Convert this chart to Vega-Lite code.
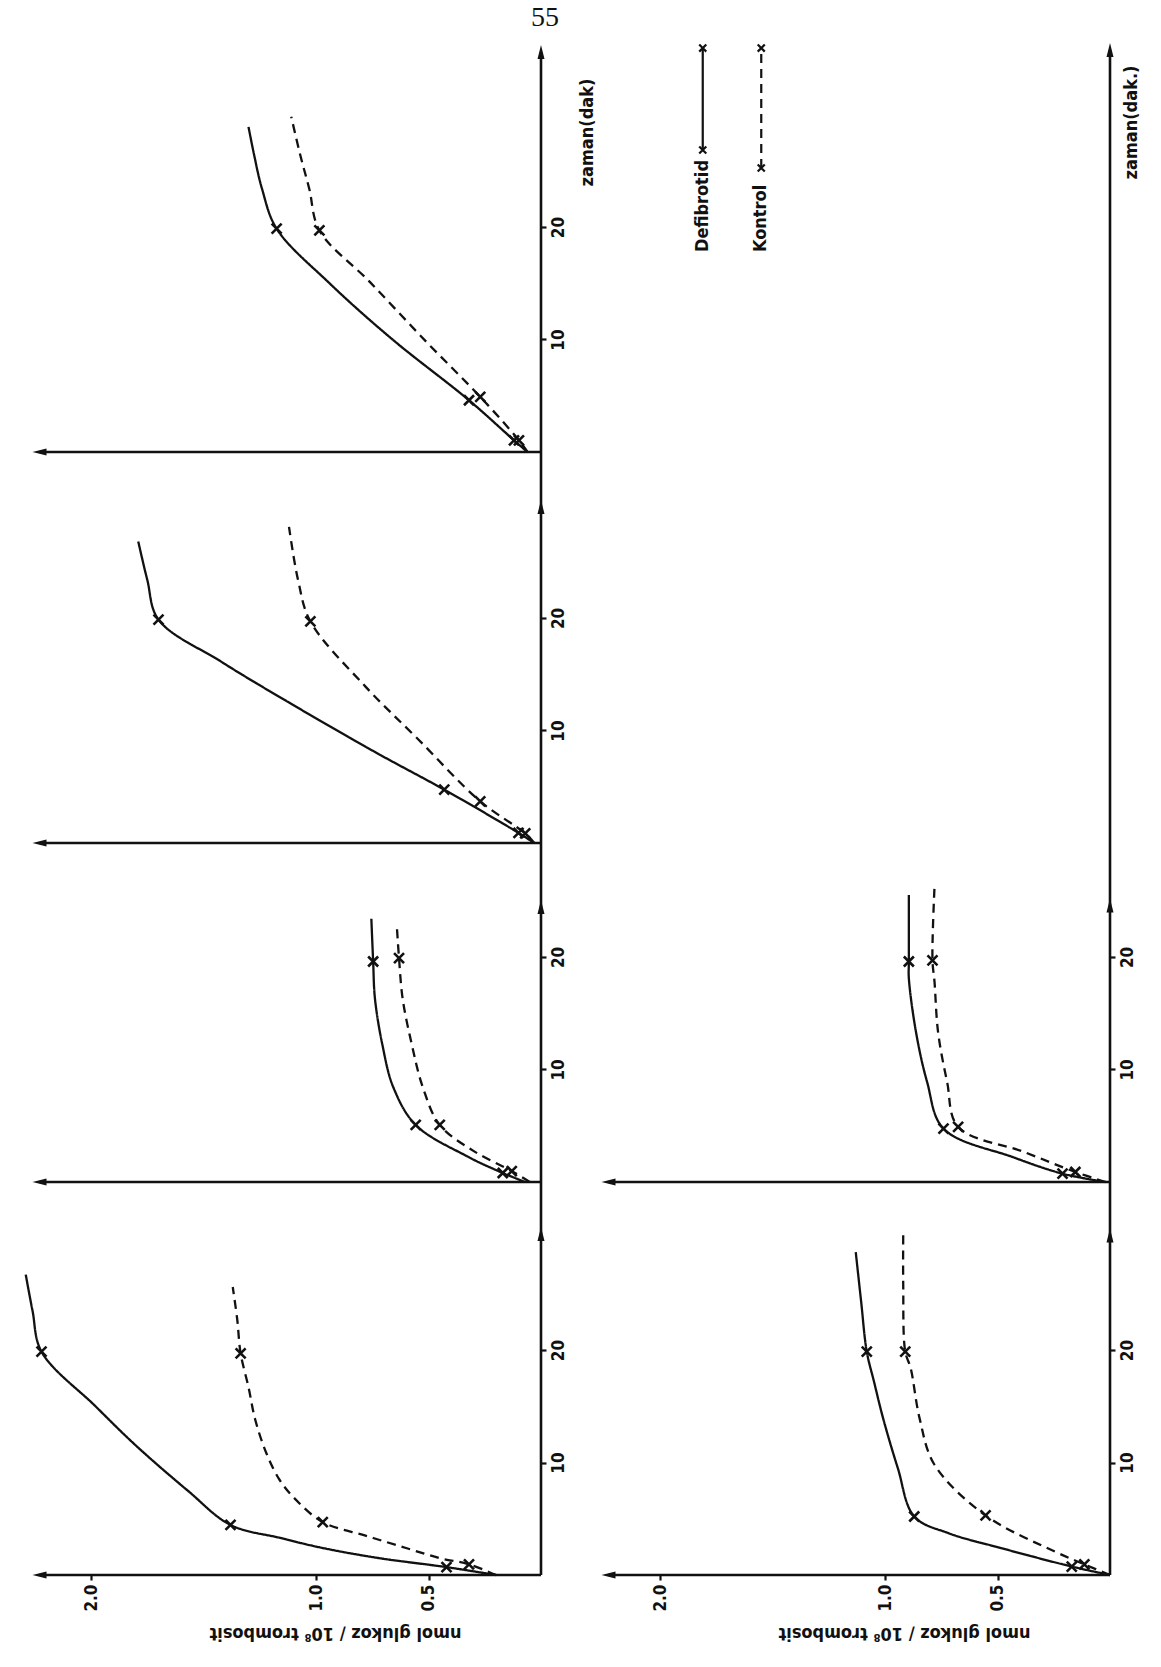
{
"$schema":"https://vega.github.io/schema/vega-lite/v6.json",
"background":"white",
"padding":{"left":10,"top":4,"right":0,"bottom":22},
"title":{"text":"55","font":"Liberation Serif","fontSize":28,"fontWeight":"normal","color":"#111","anchor":"start","frame":"group","align":"center","dx":535,"offset":8},
"config":{"view":{"stroke":null},"axis":{"labelFont":"Liberation Sans Narrow, DejaVu Sans Condensed, Liberation Sans, sans-serif","titleFont":"Liberation Sans Narrow, DejaVu Sans Condensed, Liberation Sans, sans-serif","labelFontWeight":"bold","titleFontWeight":"bold","labelColor":"#111","titleColor":"#111","tickColor":"#111","grid":false}},
"datasets":{
"curves":[
{"panel":"P1","series":"Defibrotid","t":0,"v":0.2,"m":0},{"panel":"P1","series":"Defibrotid","t":0.7,"v":0.42,"m":1},{"panel":"P1","series":"Defibrotid","t":1.5,"v":0.72,"m":0},{"panel":"P1","series":"Defibrotid","t":2.4,"v":0.97,"m":0},{"panel":"P1","series":"Defibrotid","t":3.3,"v":1.16,"m":0},{"panel":"P1","series":"Defibrotid","t":4.45,"v":1.38,"m":1},{"panel":"P1","series":"Defibrotid","t":7.5,"v":1.57,"m":0},{"panel":"P1","series":"Defibrotid","t":11.5,"v":1.8,"m":0},{"panel":"P1","series":"Defibrotid","t":15,"v":1.98,"m":0},{"panel":"P1","series":"Defibrotid","t":19.85,"v":2.22,"m":1},{"panel":"P1","series":"Defibrotid","t":23.5,"v":2.26,"m":0},{"panel":"P1","series":"Defibrotid","t":26.7,"v":2.29,"m":0},
{"panel":"P1","series":"Kontrol","t":0,"v":0.2,"m":0},{"panel":"P1","series":"Kontrol","t":0.95,"v":0.32,"m":1},{"panel":"P1","series":"Kontrol","t":1.5,"v":0.45,"m":0},{"panel":"P1","series":"Kontrol","t":2.4,"v":0.6,"m":0},{"panel":"P1","series":"Kontrol","t":3.5,"v":0.78,"m":0},{"panel":"P1","series":"Kontrol","t":4.7,"v":0.97,"m":1},{"panel":"P1","series":"Kontrol","t":6.7,"v":1.09,"m":0},{"panel":"P1","series":"Kontrol","t":8.4,"v":1.16,"m":0},{"panel":"P1","series":"Kontrol","t":10.8,"v":1.22,"m":0},{"panel":"P1","series":"Kontrol","t":13.8,"v":1.27,"m":0},{"panel":"P1","series":"Kontrol","t":16.7,"v":1.3,"m":0},{"panel":"P1","series":"Kontrol","t":19.7,"v":1.335,"m":1},{"panel":"P1","series":"Kontrol","t":22.7,"v":1.35,"m":0},{"panel":"P1","series":"Kontrol","t":25.6,"v":1.37,"m":0},
{"panel":"P2","series":"Defibrotid","t":0,"v":0.07,"m":0},{"panel":"P2","series":"Defibrotid","t":0.8,"v":0.17,"m":1},{"panel":"P2","series":"Defibrotid","t":2.3,"v":0.33,"m":0},{"panel":"P2","series":"Defibrotid","t":5.07,"v":0.557,"m":1},{"panel":"P2","series":"Defibrotid","t":8.4,"v":0.656,"m":0},{"panel":"P2","series":"Defibrotid","t":12.2,"v":0.705,"m":0},{"panel":"P2","series":"Defibrotid","t":16.3,"v":0.738,"m":0},{"panel":"P2","series":"Defibrotid","t":19.6,"v":0.746,"m":1},{"panel":"P2","series":"Defibrotid","t":23.4,"v":0.754,"m":0},
{"panel":"P2","series":"Kontrol","t":0,"v":0.05,"m":0},{"panel":"P2","series":"Kontrol","t":0.97,"v":0.13,"m":1},{"panel":"P2","series":"Kontrol","t":2.7,"v":0.295,"m":0},{"panel":"P2","series":"Kontrol","t":5.07,"v":0.45,"m":1},{"panel":"P2","series":"Kontrol","t":8.4,"v":0.525,"m":0},{"panel":"P2","series":"Kontrol","t":12.2,"v":0.574,"m":0},{"panel":"P2","series":"Kontrol","t":16.3,"v":0.615,"m":0},{"panel":"P2","series":"Kontrol","t":19.9,"v":0.631,"m":1},{"panel":"P2","series":"Kontrol","t":22.5,"v":0.64,"m":0},
{"panel":"P3","series":"Defibrotid","t":0,"v":0.03,"m":0},{"panel":"P3","series":"Defibrotid","t":0.9,"v":0.1,"m":1},{"panel":"P3","series":"Defibrotid","t":4.74,"v":0.43,"m":1},{"panel":"P3","series":"Defibrotid","t":8.0,"v":0.73,"m":0},{"panel":"P3","series":"Defibrotid","t":12.6,"v":1.13,"m":0},{"panel":"P3","series":"Defibrotid","t":16.1,"v":1.42,"m":0},{"panel":"P3","series":"Defibrotid","t":19.85,"v":1.7,"m":1},{"panel":"P3","series":"Defibrotid","t":23.4,"v":1.75,"m":0},{"panel":"P3","series":"Defibrotid","t":26.8,"v":1.79,"m":0},
{"panel":"P3","series":"Kontrol","t":0,"v":0.03,"m":0},{"panel":"P3","series":"Kontrol","t":0.85,"v":0.07,"m":1},{"panel":"P3","series":"Kontrol","t":3.7,"v":0.27,"m":1},{"panel":"P3","series":"Kontrol","t":9.2,"v":0.545,"m":0},{"panel":"P3","series":"Kontrol","t":13.9,"v":0.78,"m":0},{"panel":"P3","series":"Kontrol","t":19.7,"v":1.025,"m":1},{"panel":"P3","series":"Kontrol","t":23.4,"v":1.08,"m":0},{"panel":"P3","series":"Kontrol","t":28.1,"v":1.12,"m":0},
{"panel":"P4","series":"Defibrotid","t":0,"v":0.06,"m":0},{"panel":"P4","series":"Defibrotid","t":1.04,"v":0.12,"m":1},{"panel":"P4","series":"Defibrotid","t":4.6,"v":0.32,"m":1},{"panel":"P4","series":"Defibrotid","t":10,"v":0.66,"m":0},{"panel":"P4","series":"Defibrotid","t":15,"v":0.94,"m":0},{"panel":"P4","series":"Defibrotid","t":19.85,"v":1.175,"m":1},{"panel":"P4","series":"Defibrotid","t":23.4,"v":1.24,"m":0},{"panel":"P4","series":"Defibrotid","t":26.4,"v":1.275,"m":0},{"panel":"P4","series":"Defibrotid","t":28.9,"v":1.3,"m":0},
{"panel":"P4","series":"Kontrol","t":0,"v":0.06,"m":0},{"panel":"P4","series":"Kontrol","t":1.04,"v":0.098,"m":1},{"panel":"P4","series":"Kontrol","t":4.9,"v":0.27,"m":1},{"panel":"P4","series":"Kontrol","t":9.8,"v":0.51,"m":0},{"panel":"P4","series":"Kontrol","t":15.1,"v":0.76,"m":0},{"panel":"P4","series":"Kontrol","t":19.7,"v":0.985,"m":1},{"panel":"P4","series":"Kontrol","t":23.4,"v":1.03,"m":0},{"panel":"P4","series":"Kontrol","t":26.4,"v":1.07,"m":0},{"panel":"P4","series":"Kontrol","t":29.8,"v":1.11,"m":0},
{"panel":"P5","series":"Defibrotid","t":0,"v":0.0,"m":0},{"panel":"P5","series":"Defibrotid","t":0.75,"v":0.17,"m":1},{"panel":"P5","series":"Defibrotid","t":2.5,"v":0.504,"m":0},{"panel":"P5","series":"Defibrotid","t":3.7,"v":0.715,"m":0},{"panel":"P5","series":"Defibrotid","t":5.2,"v":0.87,"m":1},{"panel":"P5","series":"Defibrotid","t":9.5,"v":0.943,"m":0},{"panel":"P5","series":"Defibrotid","t":13.9,"v":1.008,"m":0},{"panel":"P5","series":"Defibrotid","t":17.2,"v":1.049,"m":0},{"panel":"P5","series":"Defibrotid","t":19.85,"v":1.081,"m":1},{"panel":"P5","series":"Defibrotid","t":24.3,"v":1.106,"m":0},{"panel":"P5","series":"Defibrotid","t":28.7,"v":1.13,"m":0},
{"panel":"P5","series":"Kontrol","t":0,"v":0.0,"m":0},{"panel":"P5","series":"Kontrol","t":0.95,"v":0.114,"m":1},{"panel":"P5","series":"Kontrol","t":2.07,"v":0.244,"m":0},{"panel":"P5","series":"Kontrol","t":5.3,"v":0.553,"m":1},{"panel":"P5","series":"Kontrol","t":9.8,"v":0.78,"m":0},{"panel":"P5","series":"Kontrol","t":13.9,"v":0.846,"m":0},{"panel":"P5","series":"Kontrol","t":18.4,"v":0.886,"m":0},{"panel":"P5","series":"Kontrol","t":19.85,"v":0.91,"m":1},{"panel":"P5","series":"Kontrol","t":25.8,"v":0.919,"m":0},{"panel":"P5","series":"Kontrol","t":30.2,"v":0.919,"m":0},
{"panel":"P6","series":"Defibrotid","t":0,"v":0.02,"m":0},{"panel":"P6","series":"Defibrotid","t":0.74,"v":0.211,"m":1},{"panel":"P6","series":"Defibrotid","t":2.2,"v":0.43,"m":0},{"panel":"P6","series":"Defibrotid","t":4.74,"v":0.74,"m":1},{"panel":"P6","series":"Defibrotid","t":8.9,"v":0.813,"m":0},{"panel":"P6","series":"Defibrotid","t":13.3,"v":0.862,"m":0},{"panel":"P6","series":"Defibrotid","t":18.1,"v":0.894,"m":0},{"panel":"P6","series":"Defibrotid","t":19.6,"v":0.894,"m":1},{"panel":"P6","series":"Defibrotid","t":25.5,"v":0.894,"m":0},
{"panel":"P6","series":"Kontrol","t":0,"v":0.02,"m":0},{"panel":"P6","series":"Kontrol","t":0.89,"v":0.154,"m":1},{"panel":"P6","series":"Kontrol","t":2.67,"v":0.382,"m":0},{"panel":"P6","series":"Kontrol","t":4.9,"v":0.675,"m":1},{"panel":"P6","series":"Kontrol","t":8.9,"v":0.724,"m":0},{"panel":"P6","series":"Kontrol","t":13.3,"v":0.764,"m":0},{"panel":"P6","series":"Kontrol","t":17.8,"v":0.78,"m":0},{"panel":"P6","series":"Kontrol","t":19.7,"v":0.789,"m":1},{"panel":"P6","series":"Kontrol","t":26.2,"v":0.78,"m":0}
],
"legend":[{"series":"Defibrotid","v":1.81,"t":19.91,"t1":28.98,"t2":38.04},{"series":"Kontrol","v":1.55,"t":19.91,"t1":27.38,"t2":38.04}]
},
"columns":2,
"spacing":{"row":0,"column":38},
"bounds":"flush",
"concat":[
{"width":531,"height":436,"layer":[
{"data":{"values":[{}]},"mark":{"type":"rule","color":"#111","strokeWidth":2.6},"encoding":{"x":{"datum":0,"type":"quantitative","scale":{"domain":[0,2.36],"reverse":true,"nice":false,"zero":false},"axis":null},"y":{"datum":-2.133,"type":"quantitative","scale":{"domain":[-2.133,36.62],"nice":false,"zero":false}},"y2":{"datum":35.56}}},
{"data":{"values":[{}]},"mark":{"type":"rule","color":"#111","strokeWidth":2.6},"encoding":{"x":{"datum":0,"type":"quantitative","scale":{"domain":[0,2.36],"reverse":true,"nice":false,"zero":false},"axis":null},"x2":{"datum":2.229},"y":{"datum":0,"type":"quantitative","scale":{"domain":[-2.133,36.62],"nice":false,"zero":false}}}},
{"data":{"values":[{}]},"mark":{"type":"point","shape":"M0,-1L0.5,1L-0.5,1Z","filled":true,"color":"#111","size":196,"opacity":1},"encoding":{"x":{"datum":0,"type":"quantitative","scale":{"domain":[0,2.36],"reverse":true,"nice":false,"zero":false},"axis":null},"y":{"datum":35.56,"type":"quantitative","scale":{"domain":[-2.133,36.62],"nice":false,"zero":false}}}},
{"data":{"values":[{}]},"mark":{"type":"point","shape":"M-1,0L1,-0.5L1,0.5Z","filled":true,"color":"#111","size":196,"opacity":1},"encoding":{"x":{"datum":2.229,"type":"quantitative","scale":{"domain":[0,2.36],"reverse":true,"nice":false,"zero":false},"axis":null},"y":{"datum":0,"type":"quantitative","scale":{"domain":[-2.133,36.62],"nice":false,"zero":false}}}},
{"data":{"name":"curves"},"transform":[{"filter":"datum.panel==='P4'"}],"mark":{"type":"line","interpolate":"catmull-rom","color":"#111","strokeWidth":2.3},"encoding":{"x":{"field":"v","type":"quantitative","scale":{"domain":[0,2.36],"reverse":true,"nice":false,"zero":false},"axis":null},"y":{"field":"t","type":"quantitative","scale":{"domain":[-2.133,36.62],"nice":false,"zero":false},"axis":{"orient":"right","values":[10,20],"domain":false,"ticks":true,"tickSize":5,"tickWidth":2.2,"labelAngle":270,"labelAlign":"center","labelBaseline":"top","labelPadding":4,"labelFontSize":17,"title":"zaman(dak)","titleAngle":270,"titleAlign":"center","titleBaseline":"top","titleY":92,"titlePadding":12,"titleFontSize":18}},"order":{"field":"t","type":"quantitative"},"strokeDash":{"field":"series","type":"nominal","scale":{"domain":["Defibrotid","Kontrol"],"range":[[1,0],[9,6]]},"legend":null}}},
{"data":{"name":"curves"},"transform":[{"filter":"datum.panel==='P4' && datum.m===1"}],"mark":{"type":"point","shape":"M-1,-1L1,1M-1,1L1,-1","filled":false,"color":"#111","strokeWidth":2.6,"size":100,"opacity":1},"encoding":{"x":{"field":"v","type":"quantitative","scale":{"domain":[0,2.36],"reverse":true,"nice":false,"zero":false},"axis":null},"y":{"field":"t","type":"quantitative","scale":{"domain":[-2.133,36.62],"nice":false,"zero":false}}}}
]},
{"width":531,"height":436,"layer":[
{"data":{"values":[{}]},"mark":{"type":"rule","color":"#111","strokeWidth":2.6},"encoding":{"x":{"datum":0,"type":"quantitative","scale":{"domain":[0,2.36],"reverse":true,"nice":false,"zero":false},"axis":null},"y":{"datum":0,"type":"quantitative","scale":{"domain":[0,38.76],"nice":false,"zero":false}},"y2":{"datum":37.87}}},
{"data":{"values":[{}]},"mark":{"type":"point","shape":"M0,-1L0.5,1L-0.5,1Z","filled":true,"color":"#111","size":196,"opacity":1},"encoding":{"x":{"datum":0,"type":"quantitative","scale":{"domain":[0,2.36],"reverse":true,"nice":false,"zero":false},"axis":null},"y":{"datum":37.87,"type":"quantitative","scale":{"domain":[0,38.76],"nice":false,"zero":false}}}},
{"data":{"name":"legend"},"mark":{"type":"text","angle":270,"align":"left","baseline":"middle","fontSize":18,"fontWeight":"bold","color":"#111","font":"Liberation Sans Narrow, DejaVu Sans Condensed, Liberation Sans, sans-serif"},"encoding":{"x":{"field":"v","type":"quantitative","scale":{"domain":[0,2.36],"reverse":true,"nice":false,"zero":false},"axis":null},"y":{"field":"t","type":"quantitative","scale":{"domain":[0,38.76],"nice":false,"zero":false},"axis":{"orient":"right","domain":false,"ticks":false,"labels":false,"title":"zaman(dak.)","titleAngle":270,"titleAlign":"center","titleBaseline":"top","titleY":82,"titlePadding":12,"titleFontSize":18}},"text":{"field":"series"}}},
{"data":{"name":"legend"},"mark":{"type":"rule","color":"#111","strokeWidth":2.2},"encoding":{"x":{"field":"v","type":"quantitative","scale":{"domain":[0,2.36],"reverse":true,"nice":false,"zero":false},"axis":null},"y":{"field":"t1","type":"quantitative","scale":{"domain":[0,38.76],"nice":false,"zero":false}},"y2":{"field":"t2"},"strokeDash":{"field":"series","type":"nominal","scale":{"domain":["Defibrotid","Kontrol"],"range":[[1,0],[6,5]]},"legend":null}}},
{"data":{"name":"legend"},"mark":{"type":"point","shape":"M-1,-1L1,1M-1,1L1,-1","filled":false,"color":"#111","strokeWidth":2.2,"size":50,"opacity":1},"encoding":{"x":{"field":"v","type":"quantitative","scale":{"domain":[0,2.36],"reverse":true,"nice":false,"zero":false},"axis":null},"y":{"field":"t1","type":"quantitative","scale":{"domain":[0,38.76],"nice":false,"zero":false}}}},
{"data":{"name":"legend"},"mark":{"type":"point","shape":"M-1,-1L1,1M-1,1L1,-1","filled":false,"color":"#111","strokeWidth":2.2,"size":50,"opacity":1},"encoding":{"x":{"field":"v","type":"quantitative","scale":{"domain":[0,2.36],"reverse":true,"nice":false,"zero":false},"axis":null},"y":{"field":"t2","type":"quantitative","scale":{"domain":[0,38.76],"nice":false,"zero":false}}}}
]},
{"width":531,"height":395,"layer":[
{"data":{"values":[{}]},"mark":{"type":"rule","color":"#111","strokeWidth":2.6},"encoding":{"x":{"datum":0,"type":"quantitative","scale":{"domain":[0,2.36],"reverse":true,"nice":false,"zero":false},"axis":null},"y":{"datum":-2.489,"type":"quantitative","scale":{"domain":[-2.489,32.62],"nice":false,"zero":false}},"y2":{"datum":32.62}}},
{"data":{"values":[{}]},"mark":{"type":"rule","color":"#111","strokeWidth":2.6},"encoding":{"x":{"datum":0,"type":"quantitative","scale":{"domain":[0,2.36],"reverse":true,"nice":false,"zero":false},"axis":null},"x2":{"datum":2.229},"y":{"datum":0,"type":"quantitative","scale":{"domain":[-2.489,32.62],"nice":false,"zero":false}}}},
{"data":{"values":[{}]},"mark":{"type":"point","shape":"M0,-1L0.5,1L-0.5,1Z","filled":true,"color":"#111","size":196,"opacity":1},"encoding":{"x":{"datum":0,"type":"quantitative","scale":{"domain":[0,2.36],"reverse":true,"nice":false,"zero":false},"axis":null},"y":{"datum":29.87,"type":"quantitative","scale":{"domain":[-2.489,32.62],"nice":false,"zero":false}}}},
{"data":{"values":[{}]},"mark":{"type":"point","shape":"M-1,0L1,-0.5L1,0.5Z","filled":true,"color":"#111","size":196,"opacity":1},"encoding":{"x":{"datum":2.229,"type":"quantitative","scale":{"domain":[0,2.36],"reverse":true,"nice":false,"zero":false},"axis":null},"y":{"datum":0,"type":"quantitative","scale":{"domain":[-2.489,32.62],"nice":false,"zero":false}}}},
{"data":{"name":"curves"},"transform":[{"filter":"datum.panel==='P3'"}],"mark":{"type":"line","interpolate":"catmull-rom","color":"#111","strokeWidth":2.3},"encoding":{"x":{"field":"v","type":"quantitative","scale":{"domain":[0,2.36],"reverse":true,"nice":false,"zero":false},"axis":null},"y":{"field":"t","type":"quantitative","scale":{"domain":[-2.489,32.62],"nice":false,"zero":false},"axis":{"orient":"right","values":[10,20],"domain":false,"ticks":true,"tickSize":5,"tickWidth":2.2,"labelAngle":270,"labelAlign":"center","labelBaseline":"top","labelPadding":4,"labelFontSize":17,"title":null}},"order":{"field":"t","type":"quantitative"},"strokeDash":{"field":"series","type":"nominal","scale":{"domain":["Defibrotid","Kontrol"],"range":[[1,0],[9,6]]},"legend":null}}},
{"data":{"name":"curves"},"transform":[{"filter":"datum.panel==='P3' && datum.m===1"}],"mark":{"type":"point","shape":"M-1,-1L1,1M-1,1L1,-1","filled":false,"color":"#111","strokeWidth":2.6,"size":100,"opacity":1},"encoding":{"x":{"field":"v","type":"quantitative","scale":{"domain":[0,2.36],"reverse":true,"nice":false,"zero":false},"axis":null},"y":{"field":"t","type":"quantitative","scale":{"domain":[-2.489,32.62],"nice":false,"zero":false}}}}
]},
{"width":531,"height":395,"layer":[
{"data":{"values":[{}]},"mark":{"type":"rule","color":"#111","strokeWidth":2.6},"encoding":{"x":{"datum":0,"type":"quantitative","scale":{"domain":[0,2.36],"reverse":true,"nice":false,"zero":false},"axis":null},"y":{"datum":0,"type":"quantitative","scale":{"domain":[0,35.11],"nice":false,"zero":false},"axis":null},"y2":{"datum":35.11}}}
]},
{"width":531,"height":333,"layer":[
{"data":{"values":[{}]},"mark":{"type":"rule","color":"#111","strokeWidth":2.6},"encoding":{"x":{"datum":0,"type":"quantitative","scale":{"domain":[0,2.36],"reverse":true,"nice":false,"zero":false},"axis":null},"y":{"datum":-1.956,"type":"quantitative","scale":{"domain":[-1.956,27.64],"nice":false,"zero":false}},"y2":{"datum":27.64}}},
{"data":{"values":[{}]},"mark":{"type":"rule","color":"#111","strokeWidth":2.6},"encoding":{"x":{"datum":0,"type":"quantitative","scale":{"domain":[0,2.36],"reverse":true,"nice":false,"zero":false},"axis":null},"x2":{"datum":2.229},"y":{"datum":0,"type":"quantitative","scale":{"domain":[-1.956,27.64],"nice":false,"zero":false}}}},
{"data":{"values":[{}]},"mark":{"type":"point","shape":"M0,-1L0.5,1L-0.5,1Z","filled":true,"color":"#111","size":196,"opacity":1},"encoding":{"x":{"datum":0,"type":"quantitative","scale":{"domain":[0,2.36],"reverse":true,"nice":false,"zero":false},"axis":null},"y":{"datum":24.45,"type":"quantitative","scale":{"domain":[-1.956,27.64],"nice":false,"zero":false}}}},
{"data":{"values":[{}]},"mark":{"type":"point","shape":"M-1,0L1,-0.5L1,0.5Z","filled":true,"color":"#111","size":196,"opacity":1},"encoding":{"x":{"datum":2.229,"type":"quantitative","scale":{"domain":[0,2.36],"reverse":true,"nice":false,"zero":false},"axis":null},"y":{"datum":0,"type":"quantitative","scale":{"domain":[-1.956,27.64],"nice":false,"zero":false}}}},
{"data":{"name":"curves"},"transform":[{"filter":"datum.panel==='P2'"}],"mark":{"type":"line","interpolate":"catmull-rom","color":"#111","strokeWidth":2.3},"encoding":{"x":{"field":"v","type":"quantitative","scale":{"domain":[0,2.36],"reverse":true,"nice":false,"zero":false},"axis":null},"y":{"field":"t","type":"quantitative","scale":{"domain":[-1.956,27.64],"nice":false,"zero":false},"axis":{"orient":"right","values":[10,20],"domain":false,"ticks":true,"tickSize":5,"tickWidth":2.2,"labelAngle":270,"labelAlign":"center","labelBaseline":"top","labelPadding":4,"labelFontSize":17,"title":null}},"order":{"field":"t","type":"quantitative"},"strokeDash":{"field":"series","type":"nominal","scale":{"domain":["Defibrotid","Kontrol"],"range":[[1,0],[9,6]]},"legend":null}}},
{"data":{"name":"curves"},"transform":[{"filter":"datum.panel==='P2' && datum.m===1"}],"mark":{"type":"point","shape":"M-1,-1L1,1M-1,1L1,-1","filled":false,"color":"#111","strokeWidth":2.6,"size":100,"opacity":1},"encoding":{"x":{"field":"v","type":"quantitative","scale":{"domain":[0,2.36],"reverse":true,"nice":false,"zero":false},"axis":null},"y":{"field":"t","type":"quantitative","scale":{"domain":[-1.956,27.64],"nice":false,"zero":false}}}}
]},
{"width":531,"height":333,"layer":[
{"data":{"values":[{}]},"mark":{"type":"rule","color":"#111","strokeWidth":2.6},"encoding":{"x":{"datum":0,"type":"quantitative","scale":{"domain":[0,2.36],"reverse":true,"nice":false,"zero":false},"axis":null},"y":{"datum":-1.956,"type":"quantitative","scale":{"domain":[-1.956,27.64],"nice":false,"zero":false}},"y2":{"datum":27.64}}},
{"data":{"values":[{}]},"mark":{"type":"rule","color":"#111","strokeWidth":2.6},"encoding":{"x":{"datum":0,"type":"quantitative","scale":{"domain":[0,2.36],"reverse":true,"nice":false,"zero":false},"axis":null},"x2":{"datum":2.229},"y":{"datum":0,"type":"quantitative","scale":{"domain":[-1.956,27.64],"nice":false,"zero":false}}}},
{"data":{"values":[{}]},"mark":{"type":"point","shape":"M0,-1L0.5,1L-0.5,1Z","filled":true,"color":"#111","size":196,"opacity":1},"encoding":{"x":{"datum":0,"type":"quantitative","scale":{"domain":[0,2.36],"reverse":true,"nice":false,"zero":false},"axis":null},"y":{"datum":24.58,"type":"quantitative","scale":{"domain":[-1.956,27.64],"nice":false,"zero":false}}}},
{"data":{"values":[{}]},"mark":{"type":"point","shape":"M-1,0L1,-0.5L1,0.5Z","filled":true,"color":"#111","size":196,"opacity":1},"encoding":{"x":{"datum":2.229,"type":"quantitative","scale":{"domain":[0,2.36],"reverse":true,"nice":false,"zero":false},"axis":null},"y":{"datum":0,"type":"quantitative","scale":{"domain":[-1.956,27.64],"nice":false,"zero":false}}}},
{"data":{"name":"curves"},"transform":[{"filter":"datum.panel==='P6'"}],"mark":{"type":"line","interpolate":"catmull-rom","color":"#111","strokeWidth":2.3},"encoding":{"x":{"field":"v","type":"quantitative","scale":{"domain":[0,2.36],"reverse":true,"nice":false,"zero":false},"axis":null},"y":{"field":"t","type":"quantitative","scale":{"domain":[-1.956,27.64],"nice":false,"zero":false},"axis":{"orient":"right","values":[10,20],"domain":false,"ticks":true,"tickSize":5,"tickWidth":2.2,"labelAngle":270,"labelAlign":"center","labelBaseline":"top","labelPadding":4,"labelFontSize":17,"title":null}},"order":{"field":"t","type":"quantitative"},"strokeDash":{"field":"series","type":"nominal","scale":{"domain":["Defibrotid","Kontrol"],"range":[[1,0],[9,6]]},"legend":null}}},
{"data":{"name":"curves"},"transform":[{"filter":"datum.panel==='P6' && datum.m===1"}],"mark":{"type":"point","shape":"M-1,-1L1,1M-1,1L1,-1","filled":false,"color":"#111","strokeWidth":2.6,"size":100,"opacity":1},"encoding":{"x":{"field":"v","type":"quantitative","scale":{"domain":[0,2.36],"reverse":true,"nice":false,"zero":false},"axis":null},"y":{"field":"t","type":"quantitative","scale":{"domain":[-1.956,27.64],"nice":false,"zero":false}}}}
]},
{"width":531,"height":371,"layer":[
{"data":{"values":[{}]},"mark":{"type":"rule","color":"#111","strokeWidth":2.6},"encoding":{"x":{"datum":0,"type":"quantitative","scale":{"domain":[0,2.36],"reverse":true,"nice":false,"zero":false}},"y":{"datum":0,"type":"quantitative","scale":{"domain":[0,32.98],"nice":false,"zero":false}},"y2":{"datum":32.98}}},
{"data":{"values":[{}]},"mark":{"type":"rule","color":"#111","strokeWidth":2.6},"encoding":{"x":{"datum":0,"type":"quantitative","scale":{"domain":[0,2.36],"reverse":true,"nice":false,"zero":false}},"x2":{"datum":2.229},"y":{"datum":0,"type":"quantitative","scale":{"domain":[0,32.98],"nice":false,"zero":false}}}},
{"data":{"values":[{}]},"mark":{"type":"point","shape":"M0,-1L0.5,1L-0.5,1Z","filled":true,"color":"#111","size":196,"opacity":1},"encoding":{"x":{"datum":0,"type":"quantitative","scale":{"domain":[0,2.36],"reverse":true,"nice":false,"zero":false}},"y":{"datum":30.31,"type":"quantitative","scale":{"domain":[0,32.98],"nice":false,"zero":false}}}},
{"data":{"values":[{}]},"mark":{"type":"point","shape":"M-1,0L1,-0.5L1,0.5Z","filled":true,"color":"#111","size":196,"opacity":1},"encoding":{"x":{"datum":2.229,"type":"quantitative","scale":{"domain":[0,2.36],"reverse":true,"nice":false,"zero":false}},"y":{"datum":0,"type":"quantitative","scale":{"domain":[0,32.98],"nice":false,"zero":false}}}},
{"data":{"name":"curves"},"transform":[{"filter":"datum.panel==='P1'"}],"mark":{"type":"line","interpolate":"catmull-rom","color":"#111","strokeWidth":2.3},"encoding":{"x":{"field":"v","type":"quantitative","scale":{"domain":[0,2.36],"reverse":true,"nice":false,"zero":false},"axis":{"orient":"bottom","values":[0.5,1,2],"format":".1f","domain":false,"ticks":true,"tickSize":5,"tickWidth":2.2,"labelAngle":270,"labelAlign":"right","labelBaseline":"middle","labelPadding":4,"labelFontSize":17,"title":"nmol glukoz / 10⁸ trombosit","titleAngle":180,"titleAlign":"center","titleBaseline":"bottom","titleX":325,"titlePadding":12,"titleFontSize":18}},"y":{"field":"t","type":"quantitative","scale":{"domain":[0,32.98],"nice":false,"zero":false},"axis":{"orient":"right","values":[10,20],"domain":false,"ticks":true,"tickSize":5,"tickWidth":2.2,"labelAngle":270,"labelAlign":"center","labelBaseline":"top","labelPadding":4,"labelFontSize":17,"title":null}},"order":{"field":"t","type":"quantitative"},"strokeDash":{"field":"series","type":"nominal","scale":{"domain":["Defibrotid","Kontrol"],"range":[[1,0],[9,6]]},"legend":null}}},
{"data":{"name":"curves"},"transform":[{"filter":"datum.panel==='P1' && datum.m===1"}],"mark":{"type":"point","shape":"M-1,-1L1,1M-1,1L1,-1","filled":false,"color":"#111","strokeWidth":2.6,"size":100,"opacity":1},"encoding":{"x":{"field":"v","type":"quantitative","scale":{"domain":[0,2.36],"reverse":true,"nice":false,"zero":false}},"y":{"field":"t","type":"quantitative","scale":{"domain":[0,32.98],"nice":false,"zero":false}}}}
]},
{"width":531,"height":371,"layer":[
{"data":{"values":[{}]},"mark":{"type":"rule","color":"#111","strokeWidth":2.6},"encoding":{"x":{"datum":0,"type":"quantitative","scale":{"domain":[0,2.36],"reverse":true,"nice":false,"zero":false}},"y":{"datum":0,"type":"quantitative","scale":{"domain":[0,32.98],"nice":false,"zero":false}},"y2":{"datum":32.98}}},
{"data":{"values":[{}]},"mark":{"type":"rule","color":"#111","strokeWidth":2.6},"encoding":{"x":{"datum":0,"type":"quantitative","scale":{"domain":[0,2.36],"reverse":true,"nice":false,"zero":false}},"x2":{"datum":2.229},"y":{"datum":0,"type":"quantitative","scale":{"domain":[0,32.98],"nice":false,"zero":false}}}},
{"data":{"values":[{}]},"mark":{"type":"point","shape":"M0,-1L0.5,1L-0.5,1Z","filled":true,"color":"#111","size":196,"opacity":1},"encoding":{"x":{"datum":0,"type":"quantitative","scale":{"domain":[0,2.36],"reverse":true,"nice":false,"zero":false}},"y":{"datum":30.18,"type":"quantitative","scale":{"domain":[0,32.98],"nice":false,"zero":false}}}},
{"data":{"values":[{}]},"mark":{"type":"point","shape":"M-1,0L1,-0.5L1,0.5Z","filled":true,"color":"#111","size":196,"opacity":1},"encoding":{"x":{"datum":2.229,"type":"quantitative","scale":{"domain":[0,2.36],"reverse":true,"nice":false,"zero":false}},"y":{"datum":0,"type":"quantitative","scale":{"domain":[0,32.98],"nice":false,"zero":false}}}},
{"data":{"name":"curves"},"transform":[{"filter":"datum.panel==='P5'"}],"mark":{"type":"line","interpolate":"catmull-rom","color":"#111","strokeWidth":2.3},"encoding":{"x":{"field":"v","type":"quantitative","scale":{"domain":[0,2.36],"reverse":true,"nice":false,"zero":false},"axis":{"orient":"bottom","values":[0.5,1,2],"format":".1f","domain":false,"ticks":true,"tickSize":5,"tickWidth":2.2,"labelAngle":270,"labelAlign":"right","labelBaseline":"middle","labelPadding":4,"labelFontSize":17,"title":"nmol glukoz / 10⁸ trombosit","titleAngle":180,"titleAlign":"center","titleBaseline":"bottom","titleX":325,"titlePadding":12,"titleFontSize":18}},"y":{"field":"t","type":"quantitative","scale":{"domain":[0,32.98],"nice":false,"zero":false},"axis":{"orient":"right","values":[10,20],"domain":false,"ticks":true,"tickSize":5,"tickWidth":2.2,"labelAngle":270,"labelAlign":"center","labelBaseline":"top","labelPadding":4,"labelFontSize":17,"title":null}},"order":{"field":"t","type":"quantitative"},"strokeDash":{"field":"series","type":"nominal","scale":{"domain":["Defibrotid","Kontrol"],"range":[[1,0],[9,6]]},"legend":null}}},
{"data":{"name":"curves"},"transform":[{"filter":"datum.panel==='P5' && datum.m===1"}],"mark":{"type":"point","shape":"M-1,-1L1,1M-1,1L1,-1","filled":false,"color":"#111","strokeWidth":2.6,"size":100,"opacity":1},"encoding":{"x":{"field":"v","type":"quantitative","scale":{"domain":[0,2.36],"reverse":true,"nice":false,"zero":false}},"y":{"field":"t","type":"quantitative","scale":{"domain":[0,32.98],"nice":false,"zero":false}}}}
]}
]
}
